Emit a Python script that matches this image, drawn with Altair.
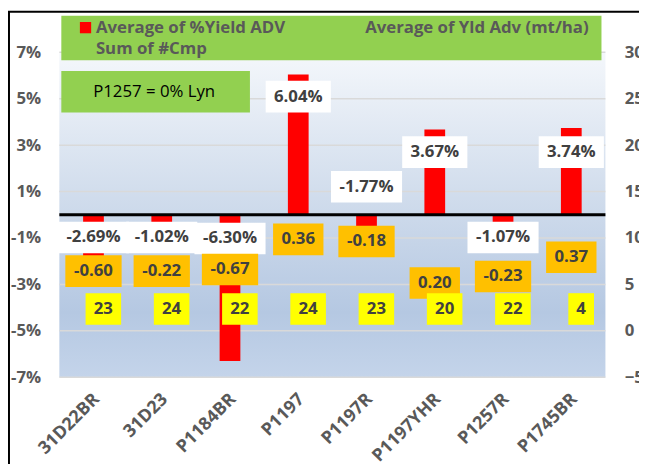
import altair as alt
import pandas as pd

# ---- data ----
hybrids = ["31D22BR", "31D23", "P1184BR", "P1197", "P1197R", "P1197YHR", "P1257R", "P1745BR"]
yield_adv_pct = [-2.69, -1.02, -6.30, 6.04, -1.77, 3.67, -1.07, 3.74]      # Average of %Yield ADV
yld_adv_mtha = [-0.60, -0.22, -0.67, 0.36, -0.18, 0.20, -0.23, 0.37]       # Average of Yld Adv (mt/ha)
cmp_count = [23, 24, 22, 24, 23, 20, 22, 4]                                # Sum of #Cmp
# hand-placed data-label anchors of the original, in %-axis units
pct_label_at = [-0.98, -0.98, -1.02, 5.09, 1.21, 2.70, -0.98, 2.70]
yld_label_at = [-2.43, -2.43, -2.36, -1.06, -1.15, -2.94, -2.66, -1.83]
cmp_label_at = [-4.06] * 8
left_ticks = [-7, -5, -3, -1, 1, 3, 5, 7]
right_ticks = [-5, 0, 5, 10, 15, 20, 25, 30]
series_names = ["Average of %Yield ADV", "Average of Yld Adv (mt/ha)", "Sum of #Cmp"]
note_text = "P1257 = 0% Lyn"

# ---- layout / style ----
W, H = 553, 329
LEFT_DOMAIN = [-7, 7]
RIGHT_DOMAIN = [-5, 30]
FONT = "Open Sans"
AXIS_GRAY = "#595959"
LABEL_GRAY = "#404040"
BOX_H_PX = 32
HALF = BOX_H_PX / 2 * (LEFT_DOMAIN[1] - LEFT_DOMAIN[0]) / H

df = pd.DataFrame({
    "hybrid": hybrids,
    "pct": yield_adv_pct,
    "yld": yld_adv_mtha,
    "cmp": cmp_count,
    "pct_at": pct_label_at,
    "yld_at": yld_label_at,
    "cmp_at": cmp_label_at,
})
df["pct_lbl"] = [f"{v:.2f}%" for v in yield_adv_pct]
df["yld_lbl"] = [f"{v:.2f}" for v in yld_adv_mtha]
df["cmp_lbl"] = [str(v) for v in cmp_count]

YS = alt.Scale(domain=LEFT_DOMAIN, nice=False, zero=False)
YAX = alt.Axis(values=left_ticks, labelExpr="datum.value + '%'", grid=False, domain=False,
               ticks=False, tickSize=0, labelPadding=19, labelFont=FONT, labelFontWeight="bold",
               labelFontSize=17, labelColor=AXIS_GRAY, title=None)
X = alt.X("hybrid:N", sort=hybrids, scale=alt.Scale(paddingInner=0, paddingOuter=0),
          axis=alt.Axis(labelAngle=-45, labelAlign="right", labelBaseline="top", labelPadding=13,
                        labelOffset=-3, domain=False, ticks=False, tickSize=0, grid=False,
                        labelFont=FONT, labelFontWeight="bold", labelFontSize=18,
                        labelColor=AXIS_GRAY, title=None))

dummy = pd.DataFrame({"a": [0]})

gradient = alt.LinearGradient(
    gradient="linear", x1=0, x2=0, y1=0, y2=1,
    stops=[alt.GradientStop(offset=0, color="#f4f7fb"),
           alt.GradientStop(offset=0.45, color="#d0dcec"),
           alt.GradientStop(offset=0.8, color="#b5c8e2"),
           alt.GradientStop(offset=1, color="#c4d4ea")])

background = alt.Chart(dummy).mark_rect(fill=gradient).encode(
    x=alt.value(0), x2=alt.value(W), y=alt.value(0), y2=alt.value(H))

grid = alt.Chart(pd.DataFrame({"t": left_ticks})).mark_rule(color="#d9d9d9", strokeWidth=1.5).encode(
    y=alt.Y("t:Q", scale=YS, axis=YAX))

bars = alt.Chart(df).mark_bar(color="#FF0000", size=21).encode(
    x=X, y=alt.Y("pct:Q", scale=YS, axis=YAX), y2=alt.datum(0))

zero = alt.Chart(pd.DataFrame({"z": [0]})).mark_rule(color="black", strokeWidth=3).encode(
    y=alt.Y("z:Q", scale=YS, axis=YAX))


def label_layers(anchor, text, fill, width_expr, shift=0):
    base = alt.Chart(df).transform_calculate(
        lo=f"datum.{anchor} - {HALF}", hi=f"datum.{anchor} + {HALF}", w=width_expr)
    box = base.mark_bar(color=fill, xOffset=shift).encode(
        x=X, y=alt.Y("lo:Q", scale=YS, axis=YAX), y2="hi:Q",
        size=alt.Size("w:Q", scale=None, legend=None))
    txt = base.mark_text(font=FONT, fontWeight="bold", fontSize=17, color=LABEL_GRAY,
                         baseline="middle", align="center", xOffset=shift).encode(
        x=X, y=alt.Y(f"{anchor}:Q", scale=YS, axis=YAX), text=f"{text}:N")
    return [box, txt]


white = label_layers("pct_at", "pct_lbl", "#FFFFFF", "length(datum.pct_lbl) * 6 + 36")
orange = label_layers("yld_at", "yld_lbl", "#FFC000", "length(datum.yld_lbl) * 6 + 27")
yellow = label_layers("cmp_at", "cmp_lbl", "#FFFF00", "length(datum.cmp_lbl) * 10 + 16", shift=10)

# legend panel and note box
legend_box = alt.Chart(dummy).mark_rect(color="#92D050").encode(
    x=alt.value(2), x2=alt.value(549), y=alt.value(-37), y2=alt.value(8))
legend_sym = alt.Chart(dummy).mark_square(color="#FF0000", size=130, opacity=1).encode(
    x=alt.value(26.5), y=alt.value(-25))
leg_style = dict(font=FONT, fontWeight="bold", fontSize=17, color=AXIS_GRAY, baseline="middle")
leg1 = alt.Chart(dummy).mark_text(text=series_names[0], align="left", **leg_style).encode(
    x=alt.value(37), y=alt.value(-25))
leg2 = alt.Chart(dummy).mark_text(text=series_names[1], align="right", **leg_style).encode(
    x=alt.value(536), y=alt.value(-25))
leg3 = alt.Chart(dummy).mark_text(text=series_names[2], align="left", **leg_style).encode(
    x=alt.value(37), y=alt.value(-3))
note_box = alt.Chart(dummy).mark_rect(color="#92D050").encode(
    x=alt.value(2), x2=alt.value(193), y=alt.value(19), y2=alt.value(61))
note = alt.Chart(dummy).mark_text(text=note_text, font=FONT, fontSize=17, color="black",
                                  align="center", baseline="middle").encode(
    x=alt.value(96), y=alt.value(40))
frame = alt.Chart(dummy).mark_rect(fillOpacity=0, stroke="black", strokeWidth=2).encode(
    x=alt.value(-51), x2=alt.value(700), y=alt.value(-41), y2=alt.value(600))

left_group = alt.layer(background, grid, bars, zero, *white, *orange, *yellow,
                       legend_box, legend_sym, leg1, leg2, leg3, note_box, note, frame)

right_axis = alt.Chart(pd.DataFrame({"r": right_ticks})).mark_point(opacity=0).encode(
    y=alt.Y("r:Q", scale=alt.Scale(domain=RIGHT_DOMAIN, nice=False, zero=False),
            axis=alt.Axis(orient="right", values=right_ticks, grid=False, domain=False,
                          ticks=False, tickSize=0, labelPadding=19, labelFont=FONT,
                          labelFontWeight="bold", labelFontSize=17, labelColor=AXIS_GRAY,
                          title=None)))

chart = alt.layer(left_group, right_axis).resolve_scale(y="independent").properties(
    width=W, height=H, autosize="none",
    padding={"left": 52, "top": 42, "right": 34, "bottom": 85},
    background="white",
).configure_view(strokeWidth=0)

chart.save("out.html", embed_options={"renderer": "svg", "actions": False})
